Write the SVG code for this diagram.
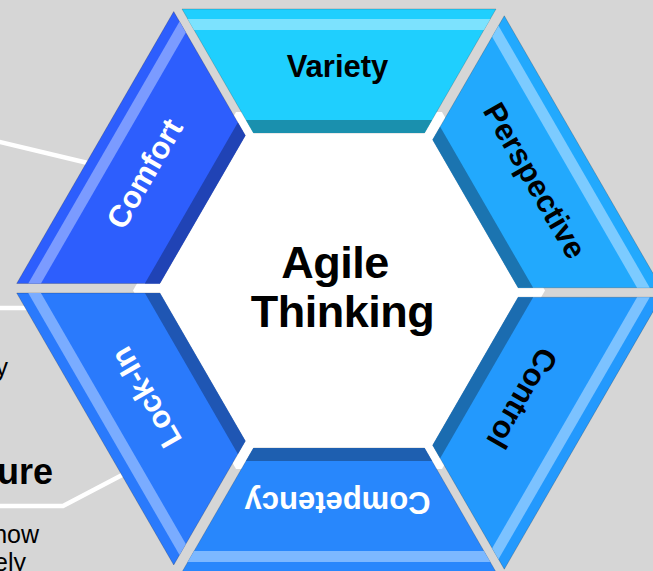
<svg xmlns="http://www.w3.org/2000/svg" width="653" height="571" viewBox="0 0 653 571">
<defs>
<style>
.seg{stroke:#000;stroke-opacity:0.22;stroke-width:0.8}
.lbl{font-family:"Liberation Sans",Arial,Helvetica,sans-serif;font-weight:bold;font-size:31px;text-anchor:middle}
.dark{fill:#000}
.light{fill:#fff}
.conn{fill:none;stroke:#fff;stroke-width:4.5}
.side{font-family:"Liberation Sans",Arial,Helvetica,sans-serif;font-size:25px;fill:#000;text-anchor:end}
.head{font-family:"Liberation Sans",Arial,Helvetica,sans-serif;font-size:36px;font-weight:bold;fill:#000;text-anchor:end}
.title{font-family:"Liberation Sans",Arial,Helvetica,sans-serif;font-size:45px;font-weight:bold;fill:#000;text-anchor:middle;letter-spacing:-0.5px}
</style>
</defs>
<rect width="653" height="571" fill="#d6d6d6"/>

<g id="connectors">
<line class="conn" x1="-2" y1="141.5" x2="92" y2="164"/>
<line class="conn" x1="-2" y1="308" x2="28" y2="308"/>
<polyline class="conn" points="-2,506 63,506 124,474"/>
</g>

<g id="side-text">
<text class="side" x="8" y="376">y</text>
<text class="head" x="53" y="484">ure</text>
<text class="side" x="39" y="543">now</text>
<text class="side" x="26" y="571">ely</text>
</g>

<g id="center">
<polygon points="545,290.5 442,112.1 236,112.1 133,290.5 236,468.9 442,468.9" fill="#fff"/>
<text class="title" x="335" y="278">Agile</text>
<text class="title" x="342.5" y="326.5">Thinking</text>
</g>

<g id="variety" transform="translate(339,290.5)">
<polygon class="seg" points="-157,-281.5 157,-281.5 85.5,-157.5 -85.5,-157.5" fill="#1fcffe"/>
<polygon points="-151.3,-271.5 151.3,-271.5 144.9,-260.5 -144.9,-260.5" fill="#7ce2fe"/>
<polygon points="-93,-170.5 93,-170.5 85.5,-157.5 -85.5,-157.5" fill="#1a90ae"/>
<text class="lbl dark" x="-1.5" y="-214">Variety</text>
</g>

<g id="perspective" transform="translate(339,292.5) rotate(60)">
<polygon class="seg" points="-157,-281.5 157,-281.5 85.5,-157.5 -85.5,-157.5" fill="#22a9fd"/>
<polygon points="-151.3,-271.5 151.3,-271.5 144.9,-260.5 -144.9,-260.5" fill="#7ccbff"/>
<polygon points="-93,-170.5 93,-170.5 85.5,-157.5 -85.5,-157.5" fill="#1b74b0"/>
<text class="lbl dark" x="1" y="-215">Perspective</text>
</g>

<g id="control" transform="translate(339,292.5) rotate(120)">
<polygon class="seg" points="-157,-281.5 157,-281.5 85.5,-157.5 -85.5,-157.5" fill="#2399fd"/>
<polygon points="-151.3,-271.5 151.3,-271.5 144.9,-260.5 -144.9,-260.5" fill="#7cc2ff"/>
<polygon points="-93,-170.5 93,-170.5 85.5,-157.5 -85.5,-157.5" fill="#1b6cb0"/>
<text class="lbl dark" x="0" y="-201">Control</text>
</g>

<g id="competency" transform="translate(339,290.5) rotate(180)">
<polygon class="seg" points="-157,-281.5 157,-281.5 85.5,-157.5 -85.5,-157.5" fill="#2887fc"/>
<polygon points="-151.3,-271.5 151.3,-271.5 144.9,-260.5 -144.9,-260.5" fill="#7cb8ff"/>
<polygon points="-93,-170.5 93,-170.5 85.5,-157.5 -85.5,-157.5" fill="#1e5fb0"/>
<text class="lbl light" x="1.5" y="-201">Competency</text>
</g>

<g id="lock-in" transform="translate(339,288.25) rotate(240)">
<polygon class="seg" points="-157,-281.5 157,-281.5 85.5,-157.5 -85.5,-157.5" fill="#2a7afc"/>
<polygon points="-151.3,-271.5 151.3,-271.5 144.9,-260.5 -144.9,-260.5" fill="#7aacff"/>
<polygon points="-93,-170.5 93,-170.5 85.5,-157.5 -85.5,-157.5" fill="#1f56b3"/>
<text class="lbl light" x="2" y="-211">Lock-In</text>
</g>

<g id="comfort" transform="translate(339,288.25) rotate(300)">
<polygon class="seg" points="-157,-281.5 157,-281.5 85.5,-157.5 -85.5,-157.5" fill="#2d5efd"/>
<polygon points="-151.3,-271.5 151.3,-271.5 144.9,-260.5 -144.9,-260.5" fill="#7b9bff"/>
<polygon points="-93,-170.5 93,-170.5 85.5,-157.5 -85.5,-157.5" fill="#2043b5"/>
<text class="lbl light" x="2" y="-215">Comfort</text>
</g>
</svg>
